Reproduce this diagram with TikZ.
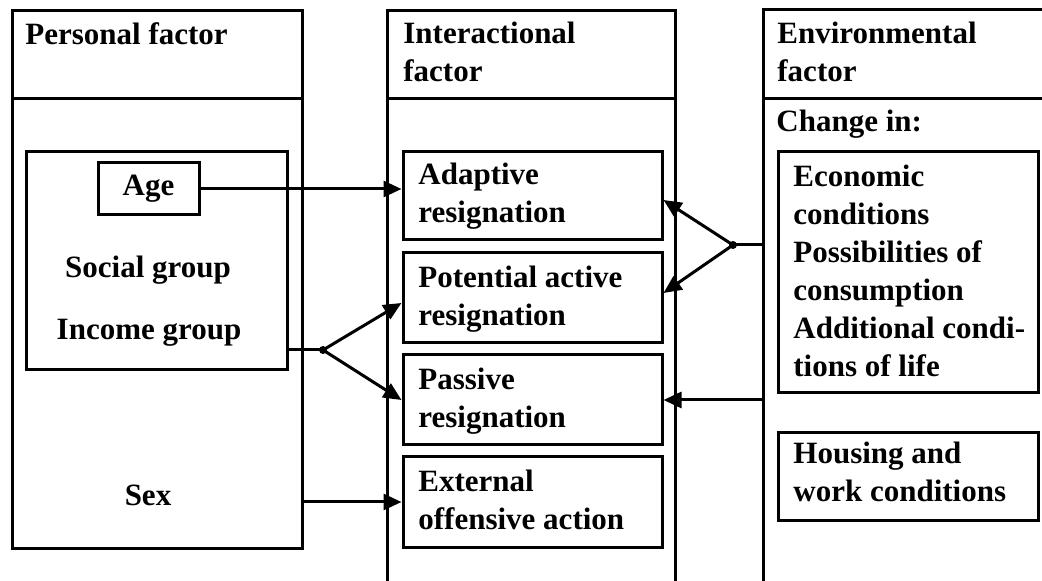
\documentclass[tikz,border=0pt]{standalone}
\usepackage{fontspec}
\setmainfont{Liberation Serif}
\usetikzlibrary{arrows.meta,fit,calc}
\newcommand{\diagfont}{\fontsize{15.5pt}{19pt}\selectfont\bfseries}
\begin{document}
\begin{tikzpicture}[x=0.5pt,y=-0.5pt,
  lw/.style={line width=1.5pt},
  frame/.style={draw,lw,inner sep=0pt},
  txt/.style={inner sep=0pt,align=left,font=\diagfont},
  arr/.style={lw,-{Triangle[length=9pt,width=8pt]}},
  ln/.style={lw}]
\clip (0,0) rectangle (1042,581);
% column frames
\node[frame,fit={(12,11)(302,99)}] (perhead) {};
\node[frame,fit={(12,99)(302,548)}] (perbody) {};
\node[frame,fit={(387,11)(675,99)}] (inthead) {};
\node[frame,fit={(387,99)(675,620)}] (intbody) {};
\node[frame,fit={(763,10)(1080,99)}] (envhead) {};
\node[frame,fit={(763,99)(1080,620)}] (envbody) {};
% headers (anchor on the baseline of the last line)
\node[txt,anchor=base west] (pertitle) at (25,45) {Personal factor};
\node[txt,anchor=base west] (inttitle) at (403,82) {Interactional\\factor};
\node[txt,anchor=base west] (envtitle) at (777,82) {Environmental\\factor};
\node[txt,anchor=base west] (change) at (776,132) {Change in:};
% personal factor
\node[frame,fit={(26,152)(287,370)}] (persbox) {};
\node[draw,lw,inner sep=0pt,minimum width=50.5pt,minimum height=26pt,font=\diagfont] (age) at (148.5,189) {Age};
\node[txt,anchor=base] (social) at (148,278) {Social group};
\node[txt,anchor=base] (income) at (149,340) {Income group};
\node[txt,anchor=base] (sex) at (148,505) {Sex};
% interactional factor
\node[frame,fit={(403,152)(662,240)}] (adaptive) {};
\node[txt,anchor=base west] (adaptive-t) at (418,223) {Adaptive\\resignation};
\node[frame,fit={(403,253)(662,343)}] (potential) {};
\node[txt,anchor=base west] (potential-t) at (418,326) {Potential active\\resignation};
\node[frame,fit={(403,355)(662,445)}] (passive) {};
\node[txt,anchor=base west] (passive-t) at (418,428) {Passive\\resignation};
\node[frame,fit={(403,457)(662,547)}] (external) {};
\node[txt,anchor=base west] (external-t) at (418,530) {External\\offensive action};
% environmental factor
\node[frame,fit={(778,152)(1038,393)}] (econ) {};
\node[txt,anchor=base west] (econ-t) at (793,377) {Economic\\conditions\\Possibilities of\\consumption\\Additional condi-\\tions of life};
\node[frame,fit={(778,433)(1038,520)}] (housing) {};
\node[txt,anchor=base west] (housing-t) at (793,502) {Housing and\\work conditions};
% connectors left
\draw[arr] (age.east) -- (age.east -| adaptive.west);
\coordinate (ib) at (323,350);
\draw[ln] (persbox.east |- ib) -- (ib);
\draw[arr] (ib) -- ([yshift=-2.5pt]potential.west);
\draw[arr] (ib) -- (passive.west);
\fill (ib) circle (2pt);
\draw[arr] (perbody.east |- external.west) -- (external.west);
% connectors right
\coordinate (eb) at (733,245);
\draw[ln] (envbody.west |- eb) -- (eb);
\draw[arr] (eb) -- ([yshift=-2pt]adaptive.east);
\draw[arr] (eb) -- ([yshift=2.5pt]potential.east);
\fill (eb) circle (2pt);
\draw[arr] (envbody.west |- passive.east) -- (passive.east);
\end{tikzpicture}
\end{document}
